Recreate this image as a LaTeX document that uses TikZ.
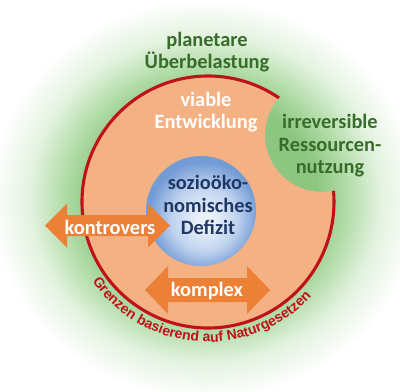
\documentclass[tikz,border=0pt]{standalone}
\usepackage{fontspec}
\setmainfont{Carlito}[BoldFont={Carlito Bold}]
\newfontfamily\arialfont{Liberation Sans}[BoldFont={Liberation Sans Bold}]
\usepackage{xcolor}
\usepackage{tikz}
\usetikzlibrary{decorations.text}

\definecolor{glowgreen}{RGB}{140,198,128}
\definecolor{glowmid}{RGB}{178,220,168}
\definecolor{glowlight}{RGB}{228,243,225}
\definecolor{salmon}{RGB}{244,177,131}
\definecolor{borderred}{RGB}{192,16,24}
\definecolor{arroworange}{RGB}{237,128,55}
\definecolor{sphereinner}{RGB}{234,240,250}
\definecolor{spheremid}{RGB}{190,210,238}
\definecolor{sphereouter}{RGB}{115,155,213}
\definecolor{leafgreen}{RGB}{56,108,42}
\definecolor{inkblue}{RGB}{31,56,100}

\pgfdeclareradialshading{greenglow}{\pgfpoint{0bp}{0bp}}{color(0bp)=(glowgreen); color(13bp)=(glowgreen); color(16.5bp)=(glowmid); color(20.5bp)=(glowlight); color(25bp)=(white); color(50bp)=(white)}
\pgfdeclareradialshading{bluesphere}{\pgfpoint{2bp}{-5bp}}{color(0bp)=(sphereinner); color(4bp)=(sphereinner); color(15bp)=(spheremid); color(25bp)=(sphereouter); color(50bp)=(sphereouter)}

\begin{document}
\begin{tikzpicture}[x=0.025cm, y=0.025cm,
    boldtext/.style={font=\fontsize{14.5}{16}\selectfont\bfseries, align=center, inner sep=0pt},
    greenlabel/.style={boldtext, text=leafgreen},
    whitelabel/.style={boldtext, text=white},
    bluelabel/.style={boldtext, text=inkblue}]
  \useasboundingbox[fill=white] (0,0) rectangle (400,391);

  % green halo behind everything
  \shade[shading=greenglow] (205,192) ellipse [x radius=215, y radius=200];

  \coordinate (rim) at (208,189);
  \coordinate (bite) at (322,256);
  \coordinate (core) at (201,180);

  % salmon disc, bite cut out top right
  \fill[salmon] (rim) ++(55.7:126) arc[start angle=55.7, end angle=365.1, radius=126]
    arc[start angle=281.6, end angle=139.2, radius=57] -- cycle;
  \draw[borderred, line width=2.2pt] (rim) ++(55.7:126) arc[start angle=55.7, end angle=365.1, radius=126];

  % blue core
  \shade[shading=bluesphere] (core) circle (55);

  % double arrows
  \fill[arroworange] (45,165.5) -- (67,187.5) -- (67,176) -- (148,176) -- (148,187.5) -- (170,165.5)
    -- (148,143.5) -- (148,155) -- (67,155) -- (67,143.5) -- cycle;
  \fill[arroworange] (145,101) -- (168,125) -- (168,113) -- (247,113) -- (247,125) -- (270,101)
    -- (247,77) -- (247,89) -- (168,89) -- (168,77) -- cycle;

  % labels
  \node[greenlabel] (planet) at (207,339) {planetare\\Überbelastung};
  \node[whitelabel] (viable) at (206,279) {viable\\Entwicklung};
  \node[greenlabel] (irrev) at (330,245) {irreversible\\Ressourcen-\\nutzung};
  \node[bluelabel] (deficit) at (208,186) {sozioöko-\\nomisches\\Defizit};
  \node[whitelabel] (contro) at (110,164) {kontrovers};
  \node[whitelabel] (complex) at (207,100) {komplex};

  % curved caption below the rim
  \path[decorate, decoration={text along path, text align=center,
      text={|\color{borderred}\arialfont\bfseries\fontsize{10}{11}\selectfont|Grenzen basierend auf Naturgesetzen}}]
    (rim) ++(196:140) arc[start angle=196, end angle=336, radius=140];
\end{tikzpicture}
\end{document}
